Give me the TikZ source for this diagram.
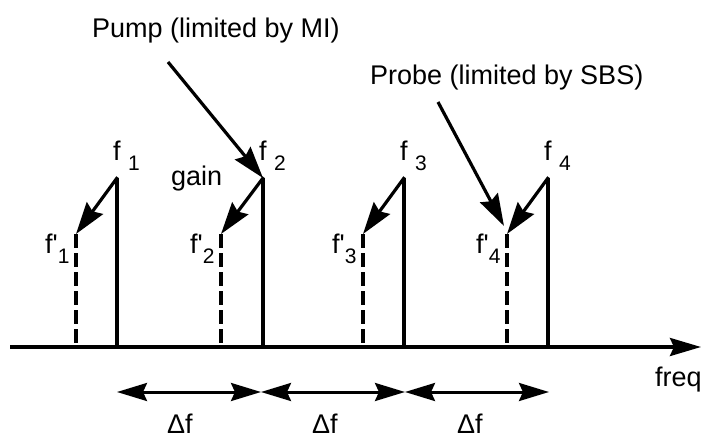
\documentclass[tikz,border=0pt]{standalone}
\usepackage{fontspec}
\setmainfont{Liberation Sans}
\usetikzlibrary{arrows.meta}
\newcommand\lowsub[1]{\raisebox{-10pt}{\fontsize{21}{24}\selectfont #1}}
\tikzset{
  lbl/.style={font=\fontsize{27}{32}\selectfont, inner sep=0pt, anchor=base west},
  bigtip/.style={-{Stealth[length=31pt,width=18pt,inset=4pt]}},
  bothtips/.style={{Stealth[length=30pt,width=18pt,inset=4pt]}-{Stealth[length=30pt,width=18pt,inset=4pt]}},
  pumpline/.style={line width=4pt},
  seedline/.style={line width=4pt, dash pattern=on 14pt off 5pt},
  pointer/.style={-{Stealth[length=32pt,width=20pt,inset=4pt]}, line width=3.2pt}
}

\begin{document}
\begin{tikzpicture}[x=1pt,y=-1pt]
\useasboundingbox (0,0) rectangle (702,439);

% frequency axis
\coordinate (ax0) at (10,347);
\coordinate (ax1) at (701,347);
\draw[bigtip, line width=3.5pt] (ax0) -- (ax1);
\node[lbl] (freq) at (655,386) {freq};

% pump lines and their shifted copies
\foreach \i/\s/\d in {1/117/76, 2/263/221, 3/404/363, 4/548/507}{
  \coordinate (top\i) at (\s,178);
  \coordinate (bot\i) at (\s,347);
  \coordinate (ptop\i) at (\d,234);
  \coordinate (pbot\i) at (\d,347);
  \draw[pumpline] (bot\i) -- (top\i);
  \draw[seedline] (ptop\i) -- (pbot\i);
  \draw[pointer, shorten <=-1pt] (top\i) -- (ptop\i);
  \node[lbl] (f\i) at (\s-4,160) {f\ \lowsub{\i}};
  \node[lbl] (fp\i) at (\d-31,253) {f\textquotesingle\lowsub{\i}};
}

\node[lbl] (gain) at (171,185) {gain};

% annotations
\node[lbl] (pump) at (92,37) {Pump (limited by MI)};
\coordinate (pumpfrom) at (168,62);
\draw[pointer] (pumpfrom) -- (top2);
\node[lbl] (probe) at (370,84) {Probe (limited by SBS)};
\coordinate (probefrom) at (438,102);
\coordinate (probeto) at (504,226);
\draw[pointer] (probefrom) -- (probeto);

% spacing
\foreach \j/\x in {0/117, 1/261, 2/405, 3/549}
  \coordinate (d\j) at (\x,392);
\draw[bothtips, line width=3pt] (d0) -- (d1);
\draw[bothtips, line width=3pt] (d1) -- (d2);
\draw[bothtips, line width=3pt] (d2) -- (d3);
\foreach \j/\x in {1/167, 2/312, 3/457}
  \node[lbl] (df\j) at (\x,433) {Δf};
\end{tikzpicture}
\end{document}
